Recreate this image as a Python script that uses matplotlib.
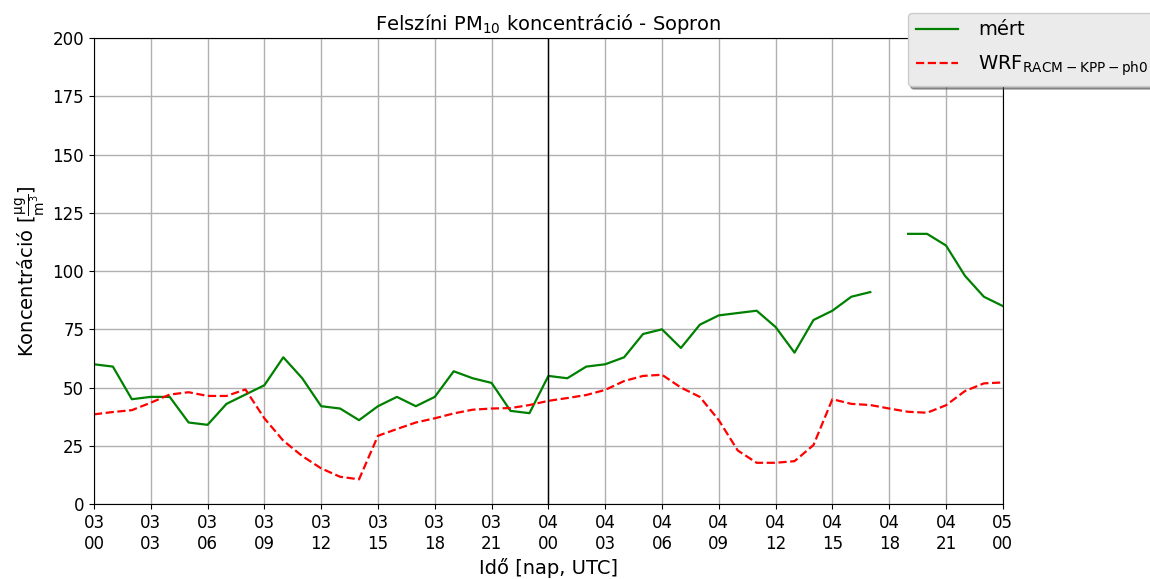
import numpy as np
import matplotlib
matplotlib.use('Agg')
import matplotlib.pyplot as plt

# hourly values, 03 00 UTC -> 05 00 UTC
hours = np.arange(0, 49)
mert = [60, 59, 45, 46, 46, 35, 34, 43, 47, 51, 63, 54, 42, 41, 36, 42, 46, 42, 46, 57,
        54, 52, 40, 39, 55, 54, 59, 60, 63, 73, 75, 67, 77, 81, 82, 83, 76, 65, 79, 83,
        89, 91, np.nan, 116, 116, 111, 98, 89, 85]
wrf = [38.5, 39.5, 40.3, 43.5, 47, 48, 46.4, 46.4, 49.2, 36.8, 27.2, 20.6, 15.3, 11.7, 10.6,
       29.3, 32.2, 35, 36.8, 38.9, 40.5, 41, 41.2, 42.5, 44.3, 45.5, 46.8, 49, 52.8, 55,
       55.5, 50, 46, 36, 23, 17.7, 17.7, 18.4, 25.3, 45, 43, 42.5, 41, 39.6, 39.2, 42.4,
       48.5, 51.8, 52.2]
tick_pos = np.arange(0, 49, 3)
tick_lab = ['03\n00', '03\n03', '03\n06', '03\n09', '03\n12', '03\n15', '03\n18', '03\n21',
            '04\n00', '04\n03', '04\n06', '04\n09', '04\n12', '04\n15', '04\n18', '04\n21',
            '05\n00']

fig = plt.figure(figsize=(11.5, 5.79), dpi=100)
ax = fig.add_axes([0.0817, 0.1295, 0.7903, 0.8045])

ax.plot(hours, mert, color='green', lw=1.6, label='mért')
ax.plot(hours, wrf, color='red', ls='--', lw=1.6, label=r'WRF$_{\mathrm{RACM-KPP-ph0}}$')
ax.axvline(24, color='black', lw=1)

ax.set_xlim(0, 48)
ax.set_ylim(0, 200)
ax.set_yticks(np.arange(0, 201, 25))
ax.set_xticks(tick_pos)
ax.set_xticklabels(tick_lab)
ax.tick_params(labelsize=12)
ax.grid(True, color='#b0b0b0', lw=1)

ax.set_title(r'Felszíni PM$_{10}$ koncentráció - Sopron', fontsize=14)
ax.set_xlabel('Idő [nap, UTC]', fontsize=14)
ax.set_ylabel(r'Koncentráció [$\frac{\mathrm{\mu g}}{\mathrm{m^3}}$]', fontsize=14)

leg = ax.legend(loc='upper left', bbox_to_anchor=(0.781, 0.995), bbox_transform=fig.transFigure,
                fontsize=14, shadow=True, fancybox=True, framealpha=1,
                labelspacing=0.75, handlelength=2.2, handletextpad=1.0)
leg.get_frame().set_facecolor('#ebebeb')

plt.savefig('out.png', dpi=100)
